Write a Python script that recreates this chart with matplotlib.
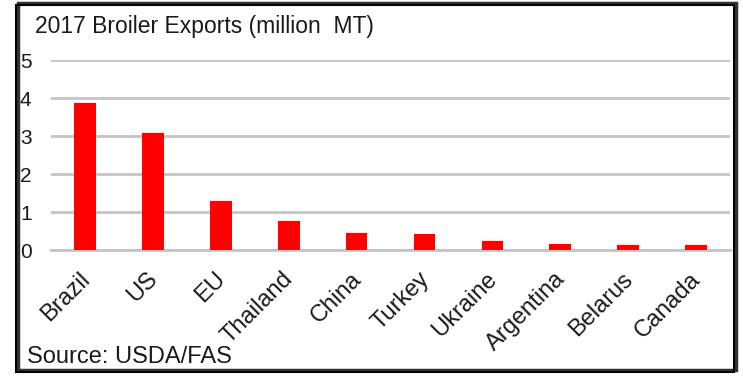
import matplotlib
matplotlib.use('Agg')
import matplotlib.pyplot as plt
import matplotlib.transforms as mtransforms
from matplotlib.patches import Rectangle

# datos
paises = ['Brazil', 'US', 'EU', 'Thailand', 'China', 'Turkey', 'Ukraine',
          'Argentina', 'Belarus', 'Canada']
exportaciones = [3.88, 3.09, 1.30, 0.77, 0.44, 0.41, 0.25, 0.17, 0.13, 0.13]
y_ticks = [0, 1, 2, 3, 4, 5]

plt.rcParams['font.family'] = ['Liberation Sans', 'DejaVu Sans']

fig = plt.figure(figsize=(7.43, 3.76), dpi=100)
ax = fig.add_axes([0.0686, 0.335, 0.914, 0.505])

x = range(len(paises))
ax.bar(x, exportaciones, width=0.32, color='#ff0000', zorder=3)
ax.set_xlim(-0.5, len(paises) - 0.5)
ax.set_ylim(0, 5)
ax.set_yticks(y_ticks)
ax.set_yticklabels([str(t) for t in y_ticks], fontsize=15, color='#1a1a1a')
ax.set_xticks(list(x))
ax.set_xticklabels(paises, rotation=45, ha='right', rotation_mode='anchor',
                   fontsize=17, color='#1a1a1a')
ax.tick_params(axis='both', length=0)
ax.tick_params(axis='y', pad=14)
ax.tick_params(axis='x', pad=13)
# pequeño desplazamiento de las etiquetas
off = mtransforms.ScaledTranslation(-0.065, 0, fig.dpi_scale_trans)
for lbl in ax.get_xticklabels():
    lbl.set_transform(lbl.get_transform() + off)

ax.yaxis.grid(True, color='#c4c4c4', linewidth=2, zorder=0)
for s in ['top', 'right', 'left']:
    ax.spines[s].set_visible(False)
ax.spines['bottom'].set_color('#c4c4c4')
ax.spines['bottom'].set_linewidth(2)

fig.text(35 / 743, 1 - 26 / 376, '2017 Broiler Exports (million  MT)',
         fontsize=16.5, va='center', ha='left', color='#1a1a1a')
fig.text(27 / 743, 1 - 357 / 376, 'Source: USDA/FAS',
         fontsize=17, va='center', ha='left', color='#1a1a1a')

# marco con sombra
fig.patches.append(Rectangle((18 / 743, 6 / 376), 718 / 743, 367 / 376,
                             transform=fig.transFigure, fill=False,
                             edgecolor='#333333', linewidth=2.5))
fig.patches.append(Rectangle((16 / 743, 4 / 376), 718 / 743, 367 / 376,
                             transform=fig.transFigure, fill=False,
                             edgecolor='black', linewidth=1.5))

fig.savefig('out.png', dpi=100)
